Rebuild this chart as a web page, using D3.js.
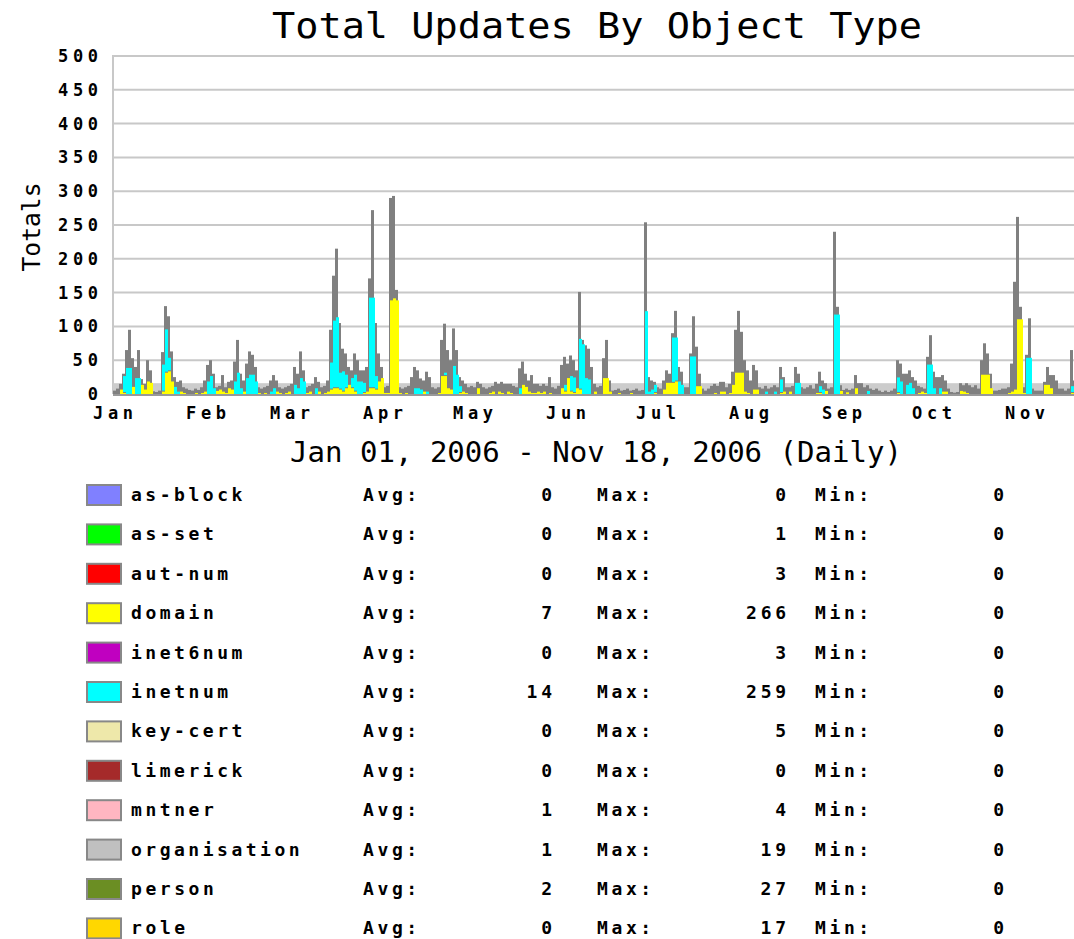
<!DOCTYPE html>
<html><head><meta charset="utf-8">
<script src="https://cdn.jsdelivr.net/npm/d3@7"></script>
<style>body{margin:0;background:#fff;overflow:hidden}</style>
</head><body><svg id="c" width="1074" height="939"></svg>
<script>
const seriesNames = ["as-block","as-set","aut-num","domain","inet6num","inetnum","key-cert","limerick","mntner","organisation","person","role"];
const seriesColors = ["#8080ff","#00ff00","#ff0000","#ffff00","#c000c0","#00ffff","#eee8aa","#a52a2a","#ffb6c1","#c0c0c0","#6b8e23","#ffd700"];
const avgValues = [0,0,0,7,0,14,0,0,1,1,2,0];
const maxValues = [0,1,3,266,3,259,5,0,4,19,27,17];
const minValues = [0,0,0,0,0,0,0,0,0,0,0,0];
const monthLabels = ["Jan","Feb","Mar","Apr","May","Jun","Jul","Aug","Sep","Oct","Nov"];
const yTicks = [0,50,100,150,200,250,300,350,400,450,500];
const bandLevel = 16;

// daily totals Jan 01 .. Nov 18 2006
const totals = [
5,8,15,30,65,95,53,40,65,22,
15,50,35,4,3,5,62,130,115,63,
25,18,20,10,8,6,5,8,6,10,
20,43,50,30,10,12,28,10,18,20,
48,80,30,20,45,63,58,40,10,8,
10,12,20,28,20,10,8,10,12,15,
40,30,63,35,10,12,15,25,18,10,
12,20,95,175,215,105,67,60,40,35,
60,50,35,35,40,171,272,105,60,40,
10,12,290,293,154,10,8,10,12,25,
40,35,23,20,33,25,10,8,10,80,
104,65,50,97,65,25,20,15,10,12,
10,18,15,10,8,10,12,18,15,18,
15,15,15,12,10,38,48,30,20,28,
15,15,12,15,12,25,10,8,12,43,
55,45,57,50,35,151,80,72,67,40,
15,10,12,53,80,20,5,6,8,5,
6,8,5,6,8,5,6,254,25,20,
18,10,8,20,35,30,90,123,40,33,
10,10,60,115,70,30,8,5,8,12,
15,12,18,18,10,15,33,95,123,92,
50,35,20,43,35,10,8,12,8,10,
13,10,40,25,10,10,12,40,30,10,
8,10,13,8,15,33,20,16,8,10,
240,129,13,6,8,6,8,28,16,16,
10,13,8,6,8,5,3,5,3,5,
8,50,45,30,30,35,25,20,12,10,
8,55,87,33,25,25,28,20,8,3,
2,3,16,13,16,13,10,13,8,50,
75,60,30,5,5,6,8,8,10,45,
166,262,129,10,58,112,8,5,5,5,
18,40,28,28,20,8,8,5,8,65,
20,10];

const domainVals = [
0,0,8,3,0,0,12,0,0,15,
8,20,18,0,0,0,5,33,35,20,
0,0,5,3,0,0,0,3,0,3,
5,0,0,0,6,8,5,3,10,8,
0,0,0,5,0,0,0,0,3,0,
3,0,0,0,5,3,0,3,5,0,
0,0,0,0,3,5,0,0,5,0,
3,5,8,10,10,8,5,10,15,10,
5,0,0,3,5,10,10,8,20,25,
3,3,140,143,140,3,0,3,0,0,
0,0,0,5,0,0,0,0,3,28,
28,10,8,0,0,3,5,3,0,0,
0,10,0,0,0,3,5,0,5,3,
0,5,3,0,0,0,15,12,5,3,
3,5,3,5,0,3,0,0,0,10,
5,25,5,3,10,8,0,0,0,0,
5,0,0,25,25,5,0,0,3,0,
0,0,3,0,0,0,0,0,0,0,
3,0,0,8,18,18,18,20,0,0,
0,0,0,0,13,13,0,0,0,0,
3,0,5,5,0,3,15,33,33,33,
5,3,0,8,8,0,0,0,0,0,
0,0,3,5,0,5,0,0,0,0,
0,0,0,0,3,3,0,6,0,0,
0,0,6,0,4,0,0,10,0,0,
0,0,0,0,0,0,0,0,0,0,
0,3,0,0,0,0,0,0,3,5,
3,0,0,0,0,0,5,5,0,0,
0,0,6,5,3,0,0,0,0,30,
30,30,10,0,0,0,0,0,3,5,
8,112,112,3,0,0,0,0,0,0,
15,15,10,0,0,0,0,0,0,3,
0,0];

const inetnumVals = [
0,0,0,25,40,40,0,25,25,0,
0,0,0,0,0,0,40,64,20,0,
12,5,0,0,0,0,0,0,0,0,
0,20,28,10,0,0,0,0,0,0,
20,33,10,0,25,30,30,20,0,0,
0,0,5,10,0,0,0,0,0,0,
15,10,25,20,0,0,0,10,0,0,
0,0,40,100,105,25,30,20,0,15,
25,20,20,15,0,134,134,20,0,0,
0,0,0,0,0,0,0,0,0,0,
10,10,8,0,5,0,0,0,0,0,
5,0,0,43,30,10,0,0,0,0,
0,0,0,0,0,0,0,0,0,0,
0,0,0,0,0,10,0,0,0,0,
0,0,0,0,0,0,0,0,0,0,
10,0,23,23,0,75,75,25,23,0,
0,0,0,0,0,0,0,0,0,0,
0,0,0,0,0,0,0,124,5,8,
12,0,0,0,0,0,67,65,20,15,
0,0,57,57,0,0,0,0,0,0,
0,0,0,0,0,0,0,0,0,0,
0,0,0,0,0,0,0,5,0,0,
5,0,20,0,0,0,0,18,18,0,
0,0,0,0,0,10,8,0,0,0,
119,119,0,0,0,0,0,0,0,0,
0,6,0,0,0,0,0,0,0,0,
0,23,20,0,15,18,10,0,0,0,
0,45,45,10,0,10,0,0,0,0,
0,0,0,0,0,0,0,0,0,0,
0,0,0,0,0,0,0,0,0,0,
0,0,0,0,55,55,0,0,0,0,
0,0,0,0,0,0,0,0,0,10,
0,0];

(function draw() {
const W = 1074, H = 939;
const svg = d3.select("#c");
const MONO = "'DejaVu Sans Mono', 'Liberation Mono', monospace";
const PITCH = 14.3;

const start = new Date(Date.UTC(2006,0,1));
const end = new Date(Date.UTC(2006,10,19));
const days = d3.utcDays(start, end);
const pLeft = 113, pTop = 56, pBottom = 394;
const dayW = 3;
const pRight = pLeft + days.length * dayW;

const x = d3.scaleBand().domain(days.map(d => +d)).range([pLeft, pRight]).padding(0);
const xt = d3.scaleUtc().domain([start, end]).range([pLeft, pRight]);
const y = d3.scaleLinear().domain([0, 500]).range([pBottom, pTop]);

function pixText(g, str, attrs, size) {
  const t = g.append("text").text(str)
    .attr("font-family", MONO).attr("font-weight", "bold").attr("font-size", size || 18)
    .attr("fill", "#000")
    .attr("textLength", str.length * PITCH - 3).attr("lengthAdjust", "spacing");
  for (const k in attrs) t.attr(k, attrs[k]);
  return t;
}

// title
svg.append("text").text("Total Updates By Object Type")
  .attr("x", 597).attr("y", 38).attr("text-anchor", "middle")
  .attr("font-family", MONO).attr("font-size", 35).attr("fill", "#000")
  .attr("textLength", 650).attr("lengthAdjust", "spacingAndGlyphs");

// grid
svg.append("g").selectAll("line").data(yTicks).join("line")
  .attr("x1", pLeft).attr("x2", W).attr("y1", d => y(d)).attr("y2", d => y(d))
  .attr("stroke", "#c8c8c8").attr("stroke-width", 2);
svg.append("line").attr("x1", pLeft).attr("x2", pLeft).attr("y1", pTop - 1).attr("y2", pBottom)
  .attr("stroke", "#c8c8c8").attr("stroke-width", 2);

// light band
svg.append("rect").attr("x", pLeft).attr("y", y(bandLevel)).attr("width", W - pLeft)
  .attr("height", y(0) - y(bandLevel)).attr("fill", "#cccccc");

// bars
const bars = svg.append("g");
bars.selectAll("rect.tot").data(days).join("rect").attr("class", "tot")
  .attr("x", d => x(+d)).attr("width", x.bandwidth())
  .attr("y", (d, i) => y(totals[i])).attr("height", (d, i) => y(0) - y(totals[i]))
  .attr("fill", "#808080");

const stackData = days.map((d, i) => ({date: +d, domain: domainVals[i], inetnum: inetnumVals[i]}));
const stack = d3.stack().keys(["domain", "inetnum"])(stackData);
const colorOf = {domain: "#ffff00", inetnum: "#00ffff"};
stack.forEach(layer => {
  bars.append("g").selectAll("rect").data(layer.filter(s => s[1] > s[0])).join("rect")
    .attr("x", s => x(s.data.date) + 1).attr("width", x.bandwidth())
    .attr("y", s => y(s[1]) + 1).attr("height", s => Math.max(0, y(s[0]) - y(s[1]) - 1))
    .attr("fill", colorOf[layer.key]);
});

// bottom axis line
svg.append("line").attr("x1", pLeft).attr("x2", W).attr("y1", pBottom + 1).attr("y2", pBottom + 1)
  .attr("stroke", "#999").attr("stroke-width", 2);

// y axis labels
const ya = svg.append("g");
yTicks.forEach(v => {
  pixText(ya, String(v), {x: 98, y: y(v) + 6, "text-anchor": "end"}, 17);
});

// x axis labels
const months = d3.utcMonths(start, end);
const xa = svg.append("g");
months.forEach((m, i) => {
  pixText(xa, monthLabels[i], {x: xt(m), y: 419, "text-anchor": "middle"}, 17);
});

// axis title
svg.append("text").text("Totals")
  .attr("transform", "translate(40,227) rotate(-90)").attr("text-anchor", "middle")
  .attr("font-family", MONO).attr("font-size", 25).attr("fill", "#000")
  .attr("textLength", 89).attr("lengthAdjust", "spacingAndGlyphs");

// subtitle
svg.append("text").text("Jan 01, 2006 - Nov 18, 2006 (Daily)")
  .attr("x", 596).attr("y", 462).attr("text-anchor", "middle")
  .attr("font-family", MONO).attr("font-size", 28).attr("fill", "#000")
  .attr("textLength", 612).attr("lengthAdjust", "spacingAndGlyphs");

// legend
const lg = svg.append("g");
seriesNames.forEach((name, i) => {
  const cy = 495 + i * 39.4;
  lg.append("rect").attr("x", 87).attr("y", cy - 10).attr("width", 34).attr("height", 20)
    .attr("fill", seriesColors[i]).attr("stroke", "#888").attr("stroke-width", 2);
  pixText(lg, name, {x: 131, y: cy + 6});
  pixText(lg, "Avg:", {x: 363, y: cy + 6});
  pixText(lg, String(avgValues[i]), {x: 552, y: cy + 6, "text-anchor": "end"});
  pixText(lg, "Max:", {x: 597, y: cy + 6});
  pixText(lg, String(maxValues[i]), {x: 786, y: cy + 6, "text-anchor": "end"});
  pixText(lg, "Min:", {x: 815, y: cy + 6});
  pixText(lg, String(minValues[i]), {x: 1004, y: cy + 6, "text-anchor": "end"});
});
})();
</script></body></html>
